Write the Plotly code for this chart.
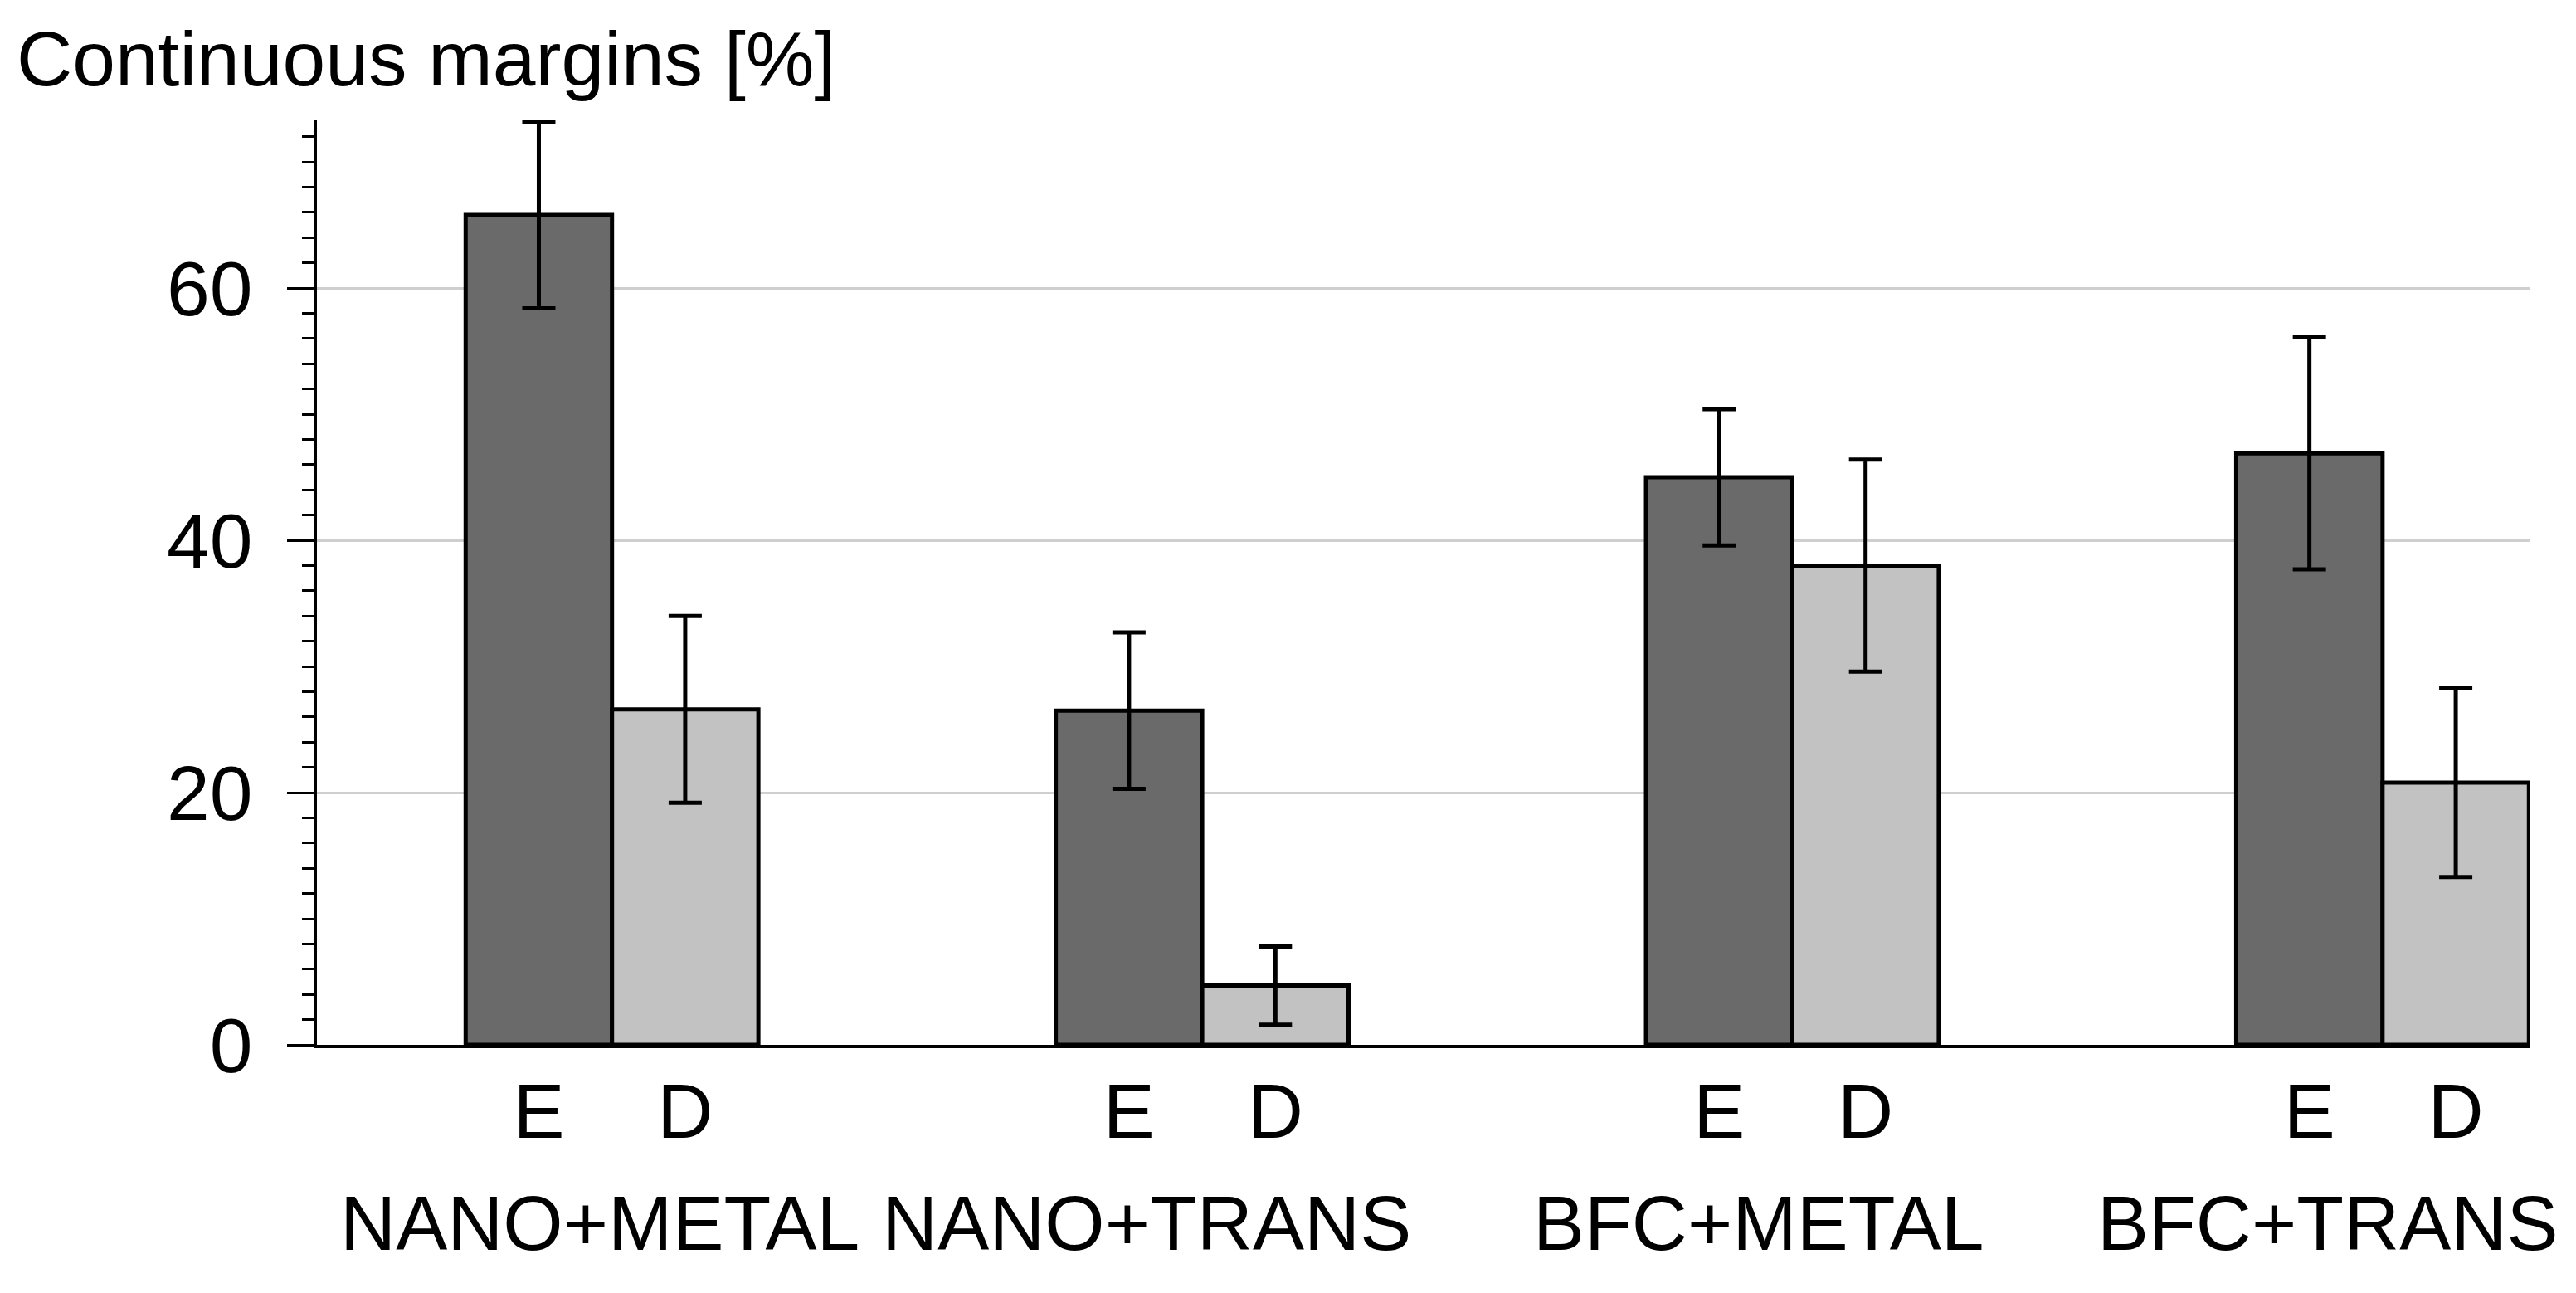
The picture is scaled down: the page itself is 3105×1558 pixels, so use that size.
import plotly.graph_objects as go

# ---- data ----
groups = ["NANO+METAL", "NANO+TRANS", "BFC+METAL", "BFC+TRANS"]
series_names = ["E", "D"]
e_values = [65.8, 26.5, 45.0, 46.9]
e_errors = [7.4, 6.2, 5.4, 9.2]
d_values = [26.6, 4.7, 38.0, 20.8]
d_errors = [7.4, 3.1, 8.4, 7.5]
y_ticks = [0, 20, 40, 60]
y_title = "Continuous margins [%]"

# ---- style / layout ----
W, H = 3105, 1558
FONT = "Liberation Sans, Arial, sans-serif"
FS = 93
BARGAP = 0.504
E_COLOR = "#6a6a6a"
D_COLOR = "#c2c2c2"
label_xshift = [-15, -67, -41, -66]
ML, MR, MT, MB = 374, 64, 137, 307
PLOT_W = W - ML - MR

idx = list(range(len(groups)))
half = (1 - BARGAP) / 4.0

fig = go.Figure()
for name, vals, errs, col in [("E", e_values, e_errors, E_COLOR),
                              ("D", d_values, d_errors, D_COLOR)]:
    fig.add_trace(go.Bar(
        x=idx, y=vals, name=name,
        marker=dict(color=col, line=dict(color="black", width=5)),
        error_y=dict(type="data", array=errs, visible=True,
                     color="black", thickness=5, width=20),
    ))

tickvals = []
ticktext = []
for i in idx:
    tickvals += [i - half, i + half]
    ticktext += series_names

annotations = [dict(
    text=y_title, xref="paper", yref="paper",
    x=-(ML - 10) / PLOT_W, y=1.066,
    xanchor="left", yanchor="middle", showarrow=False,
    font=dict(family=FONT, size=FS, color="black"))]
for i, g in enumerate(groups):
    annotations.append(dict(
        text=g, xref="x", yref="paper", x=i, y=-0.193,
        xanchor="center", yanchor="middle", showarrow=False,
        xshift=label_xshift[i],
        font=dict(family=FONT, size=FS, color="black")))

fig.update_layout(
    width=W, height=H,
    margin=dict(l=ML, r=MR, t=MT, b=MB),
    paper_bgcolor="white", plot_bgcolor="white",
    barmode="group", bargap=BARGAP, bargroupgap=0,
    showlegend=False,
    font=dict(family=FONT, size=FS, color="black"),
    annotations=annotations,
)
fig.update_xaxes(
    range=[-0.5, 3.249], tickvals=tickvals, ticktext=ticktext,
    showline=True, linecolor="black", linewidth=4,
    ticks="", showgrid=False, zeroline=False,
    ticklabelstandoff=-4,
    tickfont=dict(family=FONT, size=FS, color="black"),
)
fig.update_yaxes(
    range=[0, 73.3], tickvals=y_ticks,
    showline=True, linecolor="black", linewidth=4,
    ticks="outside", ticklen=32, tickwidth=3, tickcolor="black",
    minor=dict(dtick=2, ticks="outside", ticklen=14, tickwidth=3,
               tickcolor="black", showgrid=False),
    showgrid=True, gridcolor="#cfcfcf", gridwidth=3,
    zeroline=False,
    ticklabelstandoff=23,
    tickfont=dict(family=FONT, size=FS, color="black"),
)

fig.write_html("out.html")
